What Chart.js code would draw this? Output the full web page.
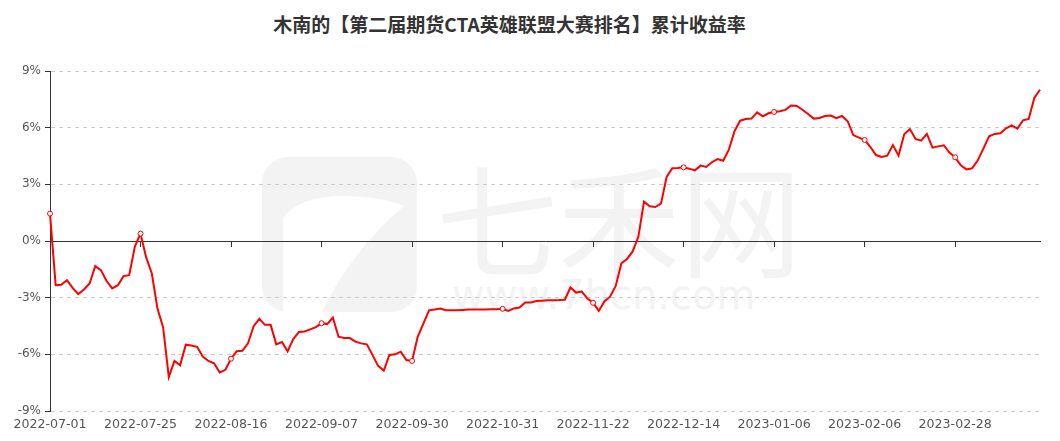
<!DOCTYPE html>
<html>
<head>
<meta charset="utf-8">
<script src="https://cdn.jsdelivr.net/npm/chart.js@4/dist/chart.umd.min.js"></script>
<style>
  body { margin: 0; background: #fff; }
  #wrap { position: relative; width: 1060px; height: 441px; }
  #title {
    position: absolute; left: 0; top: 10px; width: 1019px; text-align: center;
    font-family: "Noto Sans CJK SC", sans-serif; font-weight: bold; font-size: 19px; color: #333;
  }
  #mark { position: absolute; left: 0; top: 0; }
  canvas { position: absolute; left: 0; top: 0; }
</style>
</head>
<body>
<div id="wrap">
  <svg id="mark" width="1060" height="441">
    <rect x="262" y="157" width="155" height="155" rx="26" fill="#f3f3f3"></rect>
    <path d="M 283 312 L 283 218 Q 300 196 342 196 Q 380 196 404 206 Q 352 250 322 312 Z" fill="#fff"></path>
    <text x="436" y="268" font-family="Noto Sans CJK SC" font-size="122" fill="#f3f3f3">七禾网</text>
    <text x="452" y="309" font-family="DejaVu Sans" font-size="40" fill="#f3f3f3">www.7hcn.com</text>
  </svg>
  <div id="title">木南的【第二届期货CTA英雄联盟大赛排名】累计收益率</div>
  <canvas id="chart" width="1060" height="441"></canvas>
</div>
<script>
// trading days shown on the x axis
const dates = [
  "2022-07-01","2022-07-04","2022-07-05","2022-07-06","2022-07-07","2022-07-08","2022-07-11","2022-07-12",
  "2022-07-13","2022-07-14","2022-07-15","2022-07-18","2022-07-19","2022-07-20","2022-07-21","2022-07-22",
  "2022-07-25","2022-07-26","2022-07-27","2022-07-28","2022-07-29","2022-08-01","2022-08-02","2022-08-03",
  "2022-08-04","2022-08-05","2022-08-08","2022-08-09","2022-08-10","2022-08-11","2022-08-12","2022-08-15",
  "2022-08-16","2022-08-17","2022-08-18","2022-08-19","2022-08-22","2022-08-23","2022-08-24","2022-08-25",
  "2022-08-26","2022-08-29","2022-08-30","2022-08-31","2022-09-01","2022-09-02","2022-09-05","2022-09-06",
  "2022-09-07","2022-09-08","2022-09-09","2022-09-13","2022-09-14","2022-09-15","2022-09-16","2022-09-19",
  "2022-09-20","2022-09-21","2022-09-22","2022-09-23","2022-09-26","2022-09-27","2022-09-28","2022-09-29",
  "2022-09-30","2022-10-10","2022-10-11","2022-10-12","2022-10-13","2022-10-14","2022-10-17","2022-10-18",
  "2022-10-19","2022-10-20","2022-10-21","2022-10-24","2022-10-25","2022-10-26","2022-10-27","2022-10-28",
  "2022-10-31","2022-11-01","2022-11-02","2022-11-03","2022-11-04","2022-11-07","2022-11-08","2022-11-09",
  "2022-11-10","2022-11-11","2022-11-14","2022-11-15","2022-11-16","2022-11-17","2022-11-18","2022-11-21",
  "2022-11-22","2022-11-23","2022-11-24","2022-11-25","2022-11-28","2022-11-29","2022-11-30","2022-12-01",
  "2022-12-02","2022-12-05","2022-12-06","2022-12-07","2022-12-08","2022-12-09","2022-12-12","2022-12-13",
  "2022-12-14","2022-12-15","2022-12-16","2022-12-19","2022-12-20","2022-12-21","2022-12-22","2022-12-23",
  "2022-12-26","2022-12-27","2022-12-28","2022-12-29","2022-12-30","2023-01-03","2023-01-04","2023-01-05",
  "2023-01-06","2023-01-09","2023-01-10","2023-01-11","2023-01-12","2023-01-13","2023-01-16","2023-01-17",
  "2023-01-18","2023-01-19","2023-01-20","2023-01-30","2023-01-31","2023-02-01","2023-02-02","2023-02-03",
  "2023-02-06","2023-02-07","2023-02-08","2023-02-09","2023-02-10","2023-02-13","2023-02-14","2023-02-15",
  "2023-02-16","2023-02-17","2023-02-20","2023-02-21","2023-02-22","2023-02-23","2023-02-24","2023-02-27",
  "2023-02-28","2023-03-01","2023-03-02","2023-03-03","2023-03-06","2023-03-07","2023-03-08","2023-03-09",
  "2023-03-10","2023-03-13","2023-03-14","2023-03-15","2023-03-16","2023-03-17","2023-03-20","2023-03-21"
];

// cumulative return, %
const returns = [
  1.45, -2.34, -2.32, -2.07, -2.48, -2.81, -2.57, -2.25, -1.33, -1.54, -2.12, -2.51, -2.34, -1.86, -1.81, -0.30,
  0.39, -0.87, -1.72, -3.58, -4.58, -7.20, -6.35, -6.58, -5.49, -5.53, -5.60, -6.12, -6.35, -6.47, -6.96, -6.82,
  -6.23, -5.84, -5.81, -5.42, -4.51, -4.12, -4.44, -4.44, -5.47, -5.35, -5.84, -5.19, -4.82, -4.79, -4.68, -4.56,
  -4.35, -4.40, -4.05, -5.07, -5.14, -5.14, -5.33, -5.42, -5.47, -6.03, -6.61, -6.86, -6.03, -6.00, -5.86, -6.30,
  -6.35, -5.07, -4.37, -3.67, -3.63, -3.58, -3.67, -3.67, -3.67, -3.65, -3.63, -3.63, -3.63, -3.63, -3.61, -3.61,
  -3.59, -3.70, -3.57, -3.52, -3.25, -3.25, -3.18, -3.16, -3.14, -3.14, -3.13, -3.11, -2.46, -2.73, -2.68, -3.05,
  -3.27, -3.70, -3.20, -2.95, -2.38, -1.18, -0.95, -0.55, 0.22, 2.08, 1.84, 1.80, 1.98, 3.39, 3.85, 3.87,
  3.90, 3.83, 3.74, 3.99, 3.92, 4.17, 4.34, 4.25, 4.84, 5.81, 6.37, 6.46, 6.48, 6.81, 6.60, 6.76,
  6.83, 6.87, 6.94, 7.17, 7.15, 6.95, 6.72, 6.48, 6.51, 6.62, 6.64, 6.50, 6.62, 6.34, 5.61, 5.47,
  5.35, 4.99, 4.55, 4.45, 4.52, 5.08, 4.52, 5.65, 5.93, 5.40, 5.31, 5.67, 4.94, 5.01, 5.07, 4.68,
  4.43, 4.01, 3.79, 3.85, 4.27, 4.89, 5.54, 5.67, 5.70, 5.97, 6.12, 5.95, 6.39, 6.46, 7.57, 8.01
];

const yTicks = [-9, -6, -3, 0, 3, 6, 9];
const labelEvery = 16;

const axisColor = "#333";
const gridColor = "#ccc";

new Chart(document.getElementById("chart"), {
  type: "line",
  data: {
    labels: dates,
    datasets: [
      {
        label: "累计收益率",
        data: returns,
        borderColor: "#ff0000",
        borderWidth: 2,
        tension: 0,
        pointRadius: (ctx) => (ctx.dataIndex % labelEvery === 0 ? 2.5 : 0),
        pointBackgroundColor: "#fff",
        pointBorderColor: "#ff0000",
        pointBorderWidth: 1,
      },
    ],
  },
  options: {
    responsive: false,
    animation: false,
    layout: { padding: { top: 71, right: 20, bottom: 9, left: 0 } },
    plugins: {
      legend: { display: false },
      tooltip: { enabled: false },
    },
    scales: {
      x: {
        type: "category",
        afterFit: (scale) => { scale.height = 21; },
        grid: { display: false, drawTicks: false },
        border: { display: false },
        ticks: {
          autoSkip: false,
          maxRotation: 0,
          padding: 6,
          color: "#555",
          font: { family: "DejaVu Sans", size: 12.6 },
          callback: (v, i) => (i % labelEvery === 0 ? dates[i] : ""),
        },
      },
      x2: {
        type: "category",
        position: { y: 0 },
        afterFit: (scale) => { scale.height = 0; },
        grid: {
          drawOnChartArea: false,
          tickLength: 5,
          tickColor: (ctx) => (ctx.index % labelEvery === 0 ? axisColor : "transparent"),
        },
        border: { display: true, color: axisColor, width: 1 },
        ticks: { display: false, autoSkip: false },
      },
      y: {
        min: -9,
        max: 9,
        afterFit: (scale) => { scale.width = 50; },
        afterBuildTicks: (scale) => { scale.ticks = yTicks.map((v) => ({ value: v })); },
        grid: {
          color: (ctx) => (ctx.tick && ctx.tick.value === 0 ? "transparent" : gridColor),
          tickColor: axisColor,
          tickLength: 5,
        },
        border: { display: true, color: axisColor, width: 1, dash: [4, 4] },
        ticks: {
          padding: 4,
          color: "#555",
          font: { family: "DejaVu Sans", size: 12 },
          callback: (v) => v + "%",
        },
      },
    },
  },
});
</script>
</body>
</html>
